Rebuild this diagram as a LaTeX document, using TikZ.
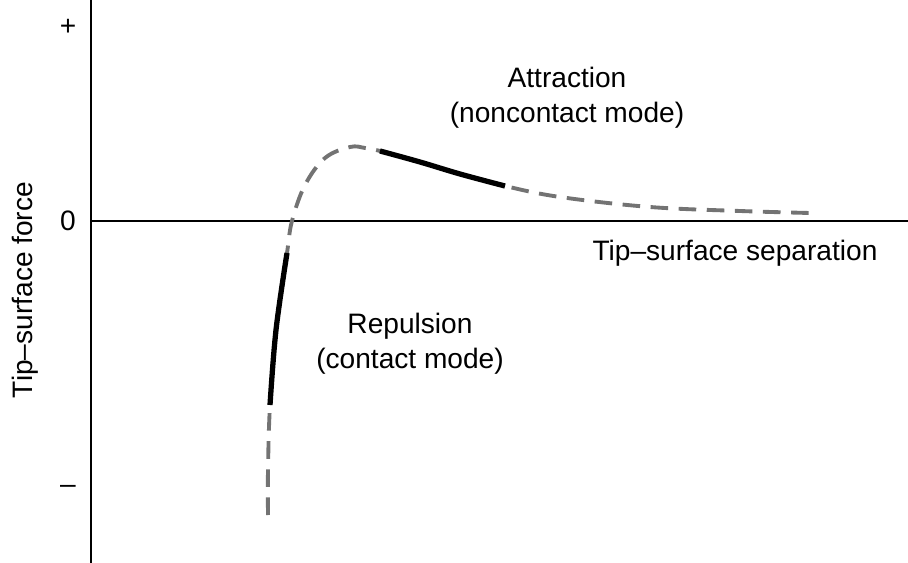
\documentclass[tikz,border=0pt]{standalone}
\usepackage{fontspec}
\setmainfont{Liberation Sans}
\begin{document}
\begin{tikzpicture}[x=0.02cm,y=-0.02cm]
    \tikzset{axis/.style = {line width=1.2pt}}
    \tikzset{label/.style = {font=\fontsize{16}{20}\selectfont}}
    \tikzset{dashpart/.style = {gray!90!black,line width=2.2pt,dash pattern=on 10pt off 6pt}}
    \tikzset{solidpart/.style = {black,line width=3pt}}
    \useasboundingbox (0,0) rectangle (908,563);
    % axes
    \coordinate (top) at (91,0);
    \coordinate (bottom) at (91,563);
    \coordinate (origin) at (91,221);
    \coordinate (right) at (908,221);
    \draw[axis] (top) -- (bottom);
    \draw[axis] (origin) -- (right);
    % ticks labels
    \node[label] (plus) at (68,27) {+};
    \node[label] (zero) at (68,221) {0};
    \node[label] (minus) at (68,489) {--};
    \node[label,rotate=90] (force) at (25,290) {Tip--surface force};
    \node[label] (sep) at (735,253) {Tip--surface separation};
    % regions
    \node[label,align=center] (attr) at (567,98) {Attraction\\(noncontact mode)};
    \node[label,align=center] (rep) at (410,344) {Repulsion\\(contact mode)};
    % curve
    \draw[dashpart] plot[smooth,tension=0.6] coordinates {(268,515) (268,470) (270,405) (276,330) (287,253) (292,221) (305,185) (325,158) (350,147) (365,148) (380,151) (420,162) (460,174) (505,186) (560,197) (650,207) (740,211) (810,213)};
    \draw[solidpart] plot[smooth,tension=0.6] coordinates {(270,405) (276,330) (287,253)};
    \draw[solidpart] plot[smooth,tension=0.6] coordinates {(380,151) (420,162) (460,174) (505,186)};
\end{tikzpicture}
\end{document}
